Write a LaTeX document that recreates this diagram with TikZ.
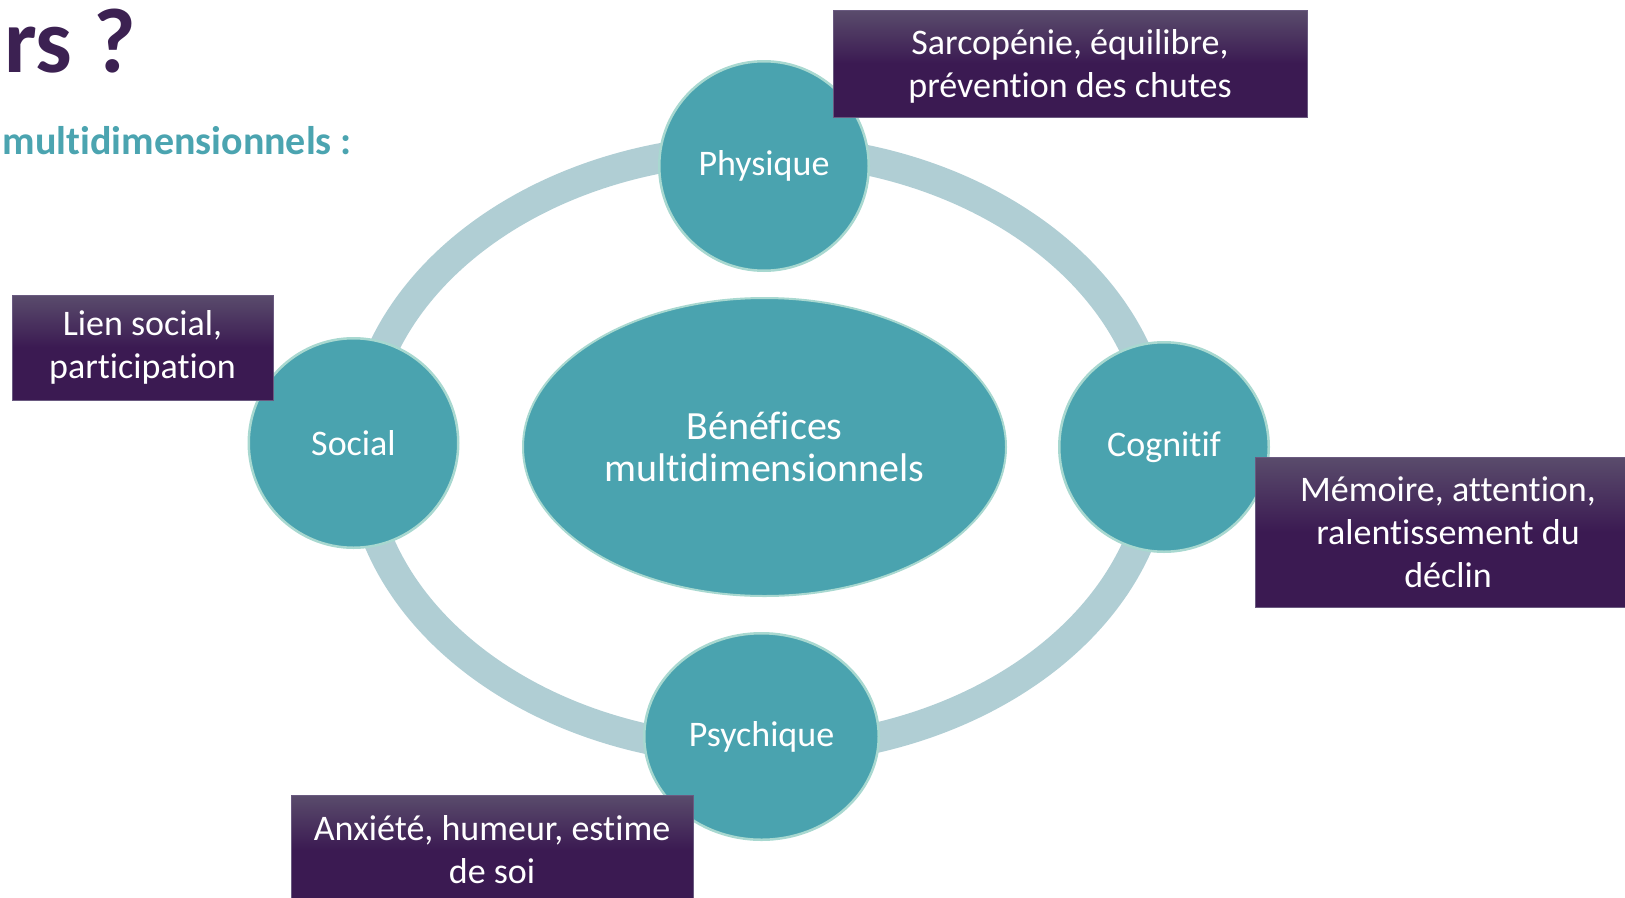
\documentclass[tikz,border=0pt]{standalone}
\usepackage{fontspec}
\setmainfont{Carlito}[Ligatures=NoCommon]
\usetikzlibrary{shapes.geometric}
\definecolor{cteal}{HTML}{4AA3AF}
\definecolor{cring}{HTML}{B0CED4}
\definecolor{cmint}{HTML}{A8D8D0}
\definecolor{ctop}{HTML}{5A4C6C}
\definecolor{cbot}{HTML}{3B1A52}
\definecolor{cedge}{HTML}{6A5A80}
\definecolor{ctitle}{HTML}{3C2152}
\definecolor{csub}{HTML}{4BA4B0}
\begin{document}
\begin{tikzpicture}[x=1pt,y=-1pt,
  ringline/.style={draw=cring, line width=30pt},
  dimnode/.style={circle, fill=cteal, draw=cmint, line width=2.5pt, inner sep=0pt,
    minimum size=209.5pt, text=white, font=\fontsize{36}{43}\selectfont},
  infobox/.style={rectangle, draw=cedge, line width=0.8pt, top color=ctop,
    bottom color=cbot, middle color=cbot, text=white, align=center,
    font=\fontsize{36}{43}\selectfont, inner sep=0pt},
]
\useasboundingbox (0,0) rectangle (1625,897);
\coordinate (ringc) at (759,450);
\draw[ringline] (ringc) ellipse [x radius=399pt, y radius=301pt];
\node[ellipse, fill=cteal, draw=cmint, line width=2pt, minimum width=483pt,
  minimum height=298pt, inner sep=0pt, text=white, align=center,
  font=\fontsize{40}{42.5}\selectfont] (center) at (764.5,447) {Bénéfices\\multidimensionnels};
\node[dimnode] (phys) at (764,166) {Physique};
\node[dimnode] (soc) at (353.5,443) {Social};
\node[dimnode] (cog) at (1164,447) {Cognitif};
\node[dimnode, ellipse, minimum width=234.5pt, minimum height=206.5pt] (psy) at (761.5,736.5) {Psychique};
\node[infobox, minimum width=474pt, minimum height=107pt, text depth=0pt] (bphys) at (1070,63.5) {Sarcopénie, équilibre,\\prévention des chutes};
\node[infobox, minimum width=261pt, minimum height=105pt] (bsoc) at (142.5,347.5) {Lien social,\\participation};
\node[infobox, minimum width=386pt, minimum height=150pt] (bcog) at (1448,532) {Mémoire, attention,\\ralentissement du\\déclin};
\node[infobox, minimum width=402pt, minimum height=110pt] (bpsy) at (492,850) {Anxiété, humeur, estime\\de soi};
\node[anchor=base west, inner sep=0pt, text=ctitle, font=\fontsize{92}{94}\selectfont\bfseries] (title) at (4,72.5) {rs ?};
\node[anchor=base west, inner sep=0pt, text=csub, font=\fontsize{40}{44}\selectfont\bfseries] (sub) at (2.5,154) {multidimensionnels :};
\end{tikzpicture}
\end{document}
